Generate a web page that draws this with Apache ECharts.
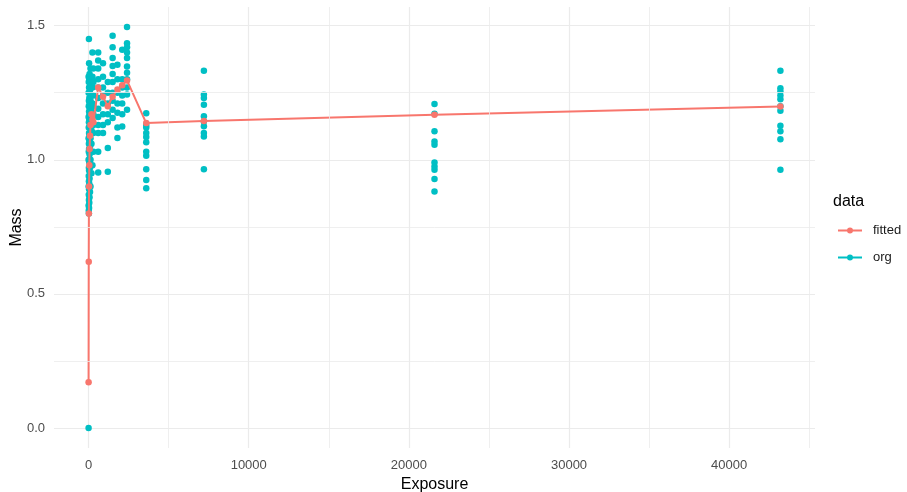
<!DOCTYPE html>
<html>
<head>
<meta charset="utf-8">
<script src="https://cdn.jsdelivr.net/npm/echarts@6/dist/echarts.min.js"></script>
<style>
  html, body { margin: 0; padding: 0; background: #ffffff; }
  #chart { width: 907px; height: 492px; }
</style>
</head>
<body>
<div id="chart"></div>
<script>
// Observed mass per exposure time (one list per exposure level)
const exposureTimes = [0, 10, 20, 30, 45, 60, 90, 120, 180, 240, 300, 600, 900, 1200, 1500, 1800, 2100, 2400, 3600, 7200, 21600, 43200];
const massByExposure = [
  [0.00, 0.83, 0.90, 1.00, 1.08, 1.16, 1.25, 1.31],
  [0.81, 0.87, 0.94, 1.03, 1.12, 1.20, 1.29],
  [0.80, 0.85, 0.92, 0.97, 1.06, 1.14, 1.22, 1.45],
  [0.82, 0.89, 0.96, 1.04, 1.10, 1.18, 1.27, 1.36],
  [0.84, 0.91, 0.99, 1.07, 1.15, 1.23, 1.30],
  [0.86, 0.93, 1.02, 1.09, 1.17, 1.21, 1.32],
  [0.88, 0.97, 1.05, 1.13, 1.19, 1.26],
  [0.90, 1.00, 1.08, 1.14, 1.22, 1.28, 1.34],
  [0.95, 1.06, 1.11, 1.18, 1.24, 1.30],
  [0.98, 1.10, 1.16, 1.21, 1.27, 1.31, 1.40],
  [1.03, 1.10, 1.13, 1.17, 1.20, 1.24, 1.29, 1.34],
  [0.953, 1.03, 1.10, 1.13, 1.16, 1.19, 1.23, 1.27, 1.30, 1.34, 1.37, 1.40],
  [1.10, 1.13, 1.17, 1.21, 1.24, 1.27, 1.31, 1.36],
  [0.955, 1.044, 1.14, 1.17, 1.21, 1.25, 1.29],
  [1.156, 1.187, 1.22, 1.25, 1.29, 1.32, 1.35, 1.38, 1.42, 1.463],
  [1.081, 1.12, 1.175, 1.21, 1.25, 1.30, 1.354],
  [1.124, 1.17, 1.21, 1.24, 1.27, 1.30, 1.41],
  [1.187, 1.243, 1.27, 1.30, 1.325, 1.348, 1.38, 1.40, 1.42, 1.435, 1.495],
  [0.894, 0.925, 0.965, 1.015, 1.03, 1.065, 1.085, 1.10, 1.12, 1.13, 1.174],
  [0.965, 1.087, 1.10, 1.125, 1.143, 1.162, 1.205, 1.23, 1.243, 1.332],
  [0.882, 0.928, 0.963, 0.975, 0.99, 1.056, 1.068, 1.106, 1.172, 1.208],
  [0.963, 1.077, 1.106, 1.127, 1.183, 1.20, 1.226, 1.24, 1.255, 1.267, 1.332]
];

// Model fit evaluated at each exposure level
const fittedExposure = [0, 10, 20, 30, 45, 60, 90, 120, 180, 240, 300, 600, 900, 1200, 1500, 1800, 2100, 2400, 3600, 7200, 21600, 43200];
const fittedMass = [0.17, 0.62, 0.80, 0.90, 0.98, 1.04, 1.09, 1.13, 1.17, 1.15, 1.14, 1.27, 1.235, 1.20, 1.235, 1.262, 1.278, 1.296, 1.137, 1.145, 1.168, 1.199];

// Axis breaks
const xTicks = [0, 10000, 20000, 30000, 40000];
const xMinorTicks = [5000, 15000, 25000, 35000, 45000];
const yTicks = [0, 0.5, 1.0, 1.5];
const yMinorTicks = [0.25, 0.75, 1.25];

const seriesNames = ['fitted', 'org'];
const palette = { fitted: '#F8766D', org: '#00BFC4' };

const orgPoints = [];
exposureTimes.forEach((t, i) => massByExposure[i].forEach(m => orgPoints.push([t, m])));
const fittedPoints = fittedExposure.map((t, i) => [t, fittedMass[i]]);

// 5% padding around the data range on both axes
const allX = exposureTimes.concat(fittedExposure);
const allY = orgPoints.map(p => p[1]).concat(fittedMass);
function padded(vals) {
  const lo = Math.min(...vals), hi = Math.max(...vals);
  const pad = (hi - lo) * 0.05;
  return [lo - pad, hi + pad];
}
const [xMin, xMax] = padded(allX);
const [yMin, yMax] = padded(allY);

const gridColor = '#EBEBEB';
const fontFamily = 'Liberation Sans, Arial, sans-serif';
const tickText = { color: '#4D4D4D', fontSize: 13, fontFamily };
const titleText = { color: '#000000', fontSize: 16, fontFamily };

// key glyph: line segment with a dot
const keyIcon = 'path://M0,4.1H24V5.9H0Z M15,5A3,3 0 1 1 9,5A3,3 0 1 1 15,5Z';

const chart = echarts.init(document.getElementById('chart'), null, { renderer: 'canvas' });
chart.setOption({
  animation: false,
  backgroundColor: '#ffffff',
  grid: { left: 54, right: 92, top: 7, bottom: 44, containLabel: false, outerBoundsMode: 'none' },
  title: {
    text: 'data',
    left: 833, top: 194, padding: 0,
    textStyle: { color: '#000000', fontSize: 16, fontWeight: 'normal', fontFamily }
  },
  legend: {
    data: seriesNames.map(n => ({ name: n, icon: keyIcon })),
    orient: 'vertical',
    left: 838, top: 224, padding: 0,
    itemWidth: 24, itemHeight: 10, itemGap: 14,
    textStyle: { color: '#1A1A1A', fontSize: 13, padding: [0, 0, 0, 6], fontFamily },
    selectedMode: false
  },
  xAxis: {
    type: 'value', min: xMin, max: xMax,
    name: 'Exposure', nameLocation: 'middle', nameGap: 25,
    nameTextStyle: titleText,
    axisLine: { show: false },
    axisTick: { show: false, customValues: xTicks },
    axisLabel: { customValues: xTicks, margin: 11, ...tickText, formatter: v => String(Math.round(v)) },
    splitLine: { show: true, lineStyle: { color: gridColor, width: 1.2 } }
  },
  yAxis: {
    type: 'value', min: yMin, max: yMax,
    name: 'Mass', nameLocation: 'middle', nameGap: 29, nameRotate: 90,
    nameMoveOverlap: false,
    nameTextStyle: titleText,
    axisLine: { show: false },
    axisTick: { show: false, customValues: yTicks },
    axisLabel: { customValues: yTicks, margin: 9, ...tickText, formatter: v => v.toFixed(1) },
    splitLine: { show: true, lineStyle: { color: gridColor, width: 1.2 } }
  },
  series: [
    {
      name: 'minor-grid', type: 'line', data: [], silent: true, z: 0,
      markLine: {
        silent: true, symbol: ['none', 'none'], label: { show: false },
        lineStyle: { color: gridColor, width: 0.8, type: 'solid' },
        emphasis: { disabled: true },
        data: xMinorTicks.map(v => ({ xAxis: v })).concat(yMinorTicks.map(v => ({ yAxis: v })))
      }
    },
    {
      name: 'org', type: 'scatter', data: orgPoints, z: 2,
      symbol: 'circle', symbolSize: 6.5,
      itemStyle: { color: palette.org, opacity: 1 },
      emphasis: { disabled: true }
    },
    {
      name: 'fitted', type: 'line', data: fittedPoints, z: 3,
      symbol: 'circle', symbolSize: 6.5, showSymbol: true,
      itemStyle: { color: palette.fitted, opacity: 1 },
      lineStyle: { color: palette.fitted, width: 2 },
      emphasis: { disabled: true }
    }
  ]
});
</script>
</body>
</html>
